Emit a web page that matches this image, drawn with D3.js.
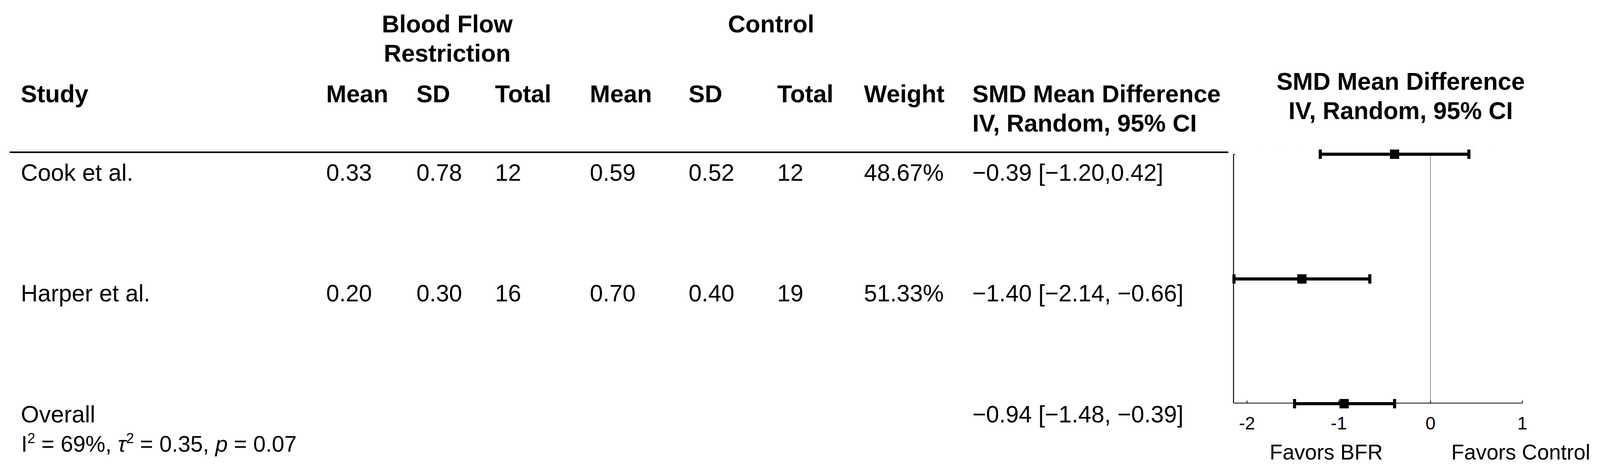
<!DOCTYPE html>
<html>
<head>
<meta charset="utf-8">
<script src="https://cdn.jsdelivr.net/npm/d3@7"></script>
<style>
  html, body { margin: 0; padding: 0; background: #fff; overflow: hidden; width: 100%; height: 100%; }
  svg { display: block; width: 100vw; height: 100vh; }
  text { font-family: "Liberation Sans", Arial, sans-serif; fill: #000; }
</style>
</head>
<body>
<svg id="chart" viewBox="0 0 4150 1209" preserveAspectRatio="none"></svg>
<script>
// ---------- DATA ----------
const studies   = ["Cook et al.", "Harper et al."];
const bfrMean   = [0.33, 0.20];
const bfrSD     = [0.78, 0.30];
const bfrTotal  = [12, 16];
const ctlMean   = [0.59, 0.70];
const ctlSD     = [0.52, 0.40];
const ctlTotal  = [12, 19];
const weights   = [48.67, 51.33];
const smd       = [-0.39, -1.40];
const ciLow     = [-1.20, -2.14];
const ciHigh    = [0.42, -0.66];
const ciLabels  = ["\u22120.39 [\u22121.20,0.42]", "\u22121.40 [\u22122.14, \u22120.66]"];
const overallLabel = "Overall";
const overallSmd  = [-0.94];
const overallLow  = [-1.48];
const overallHigh = [-0.39];
const overallCiLabel = "\u22120.94 [\u22121.48, \u22120.39]";
const statI2 = "69%", statTau2 = "0.35", statP = "0.07";
const tickValues = [-2, -1, 0, 1];
const tickLabels = ["-2", "-1", "0", "1"];
const favorLabels = ["Favors BFR", "Favors Control"];

// ---------- LAYOUT ----------
const svg = d3.select("#chart");
const W = 4150, H = 1209;
svg.append("rect").attr("width", W).attr("height", H).attr("fill", "#fff");

const headFont = 63, bodyFont = 61;
const rowNames = studies.concat([overallLabel]);
const yMark = d3.scalePoint().domain(rowNames).range([395, 1034]);
const yText = d3.scalePoint().domain(rowNames).range([463, 1082]);
const x = d3.scaleLinear().domain([-2.147, 1]).range([3199, 3948]);

const fmt2 = d3.format(".2f");
const columns = [
  { head: "Mean",   x: 846,  vals: bfrMean.map(fmt2) },
  { head: "SD",     x: 1080, vals: bfrSD.map(fmt2) },
  { head: "Total",  x: 1284, vals: bfrTotal.map(String) },
  { head: "Mean",   x: 1530, vals: ctlMean.map(fmt2) },
  { head: "SD",     x: 1786, vals: ctlSD.map(fmt2) },
  { head: "Total",  x: 2016, vals: ctlTotal.map(String) },
  { head: "Weight", x: 2241, vals: weights.map(w => fmt2(w) + "%") },
  { head: "SMD Mean Difference", x: 2522, vals: ciLabels }
];

// group headers
const gh = svg.append("g").attr("font-weight", "bold").attr("font-size", headFont);
gh.append("text").attr("x", 1160).attr("y", 83).attr("text-anchor", "middle").text("Blood Flow");
gh.append("text").attr("x", 1160).attr("y", 158).attr("text-anchor", "middle").text("Restriction");
gh.append("text").attr("x", 2000).attr("y", 83).attr("text-anchor", "middle").text("Control");

// column headers
gh.append("text").attr("x", 54).attr("y", 262).text("Study");
columns.forEach(c => {
  gh.append("text").attr("x", c.x).attr("y", 262).text(c.head);
});
gh.append("text").attr("x", 2522).attr("y", 337).text("IV, Random, 95% CI");

// right header
gh.append("text").attr("x", 3633).attr("y", 230).attr("text-anchor", "middle").text("SMD Mean Difference");
gh.append("text").attr("x", 3633).attr("y", 305).attr("text-anchor", "middle").text("IV, Random, 95% CI");

// header rule
svg.append("line").attr("x1", 25).attr("x2", 3186).attr("y1", 390).attr("y2", 390)
  .attr("stroke", "#000").attr("stroke-width", 4);

// body rows
const gb = svg.append("g").attr("font-size", bodyFont);
studies.forEach((s, i) => {
  const y = yText(s);
  gb.append("text").attr("x", 54).attr("y", y).text(s);
  columns.forEach(c => gb.append("text").attr("x", c.x).attr("y", y).text(c.vals[i]));
});
gb.append("text").attr("x", 54).attr("y", yText(overallLabel)).text(overallLabel);
gb.append("text").attr("x", 2522).attr("y", yText(overallLabel)).text(overallCiLabel);

// stats line
const st = svg.append("text").attr("x", 55).attr("y", 1157).attr("font-size", 58);
st.append("tspan").text("I");
st.append("tspan").attr("font-size", 36).attr("dy", -22).text("2");
st.append("tspan").attr("dy", 22).text(" = " + statI2 + ", ");
st.append("tspan").attr("font-style", "italic").text("\u03C4");
st.append("tspan").attr("font-size", 36).attr("dy", -22).text("2");
st.append("tspan").attr("dy", 22).text(" = " + statTau2 + ", ");
st.append("tspan").attr("font-style", "italic").text("p");
st.append("tspan").text(" = " + statP);

// ---------- FOREST PLOT ----------
const yTop = 395, yAxis = 1032;
const gp = svg.append("g");

// faint top guide
gp.append("line").attr("x1", 3265).attr("x2", 3885).attr("y1", 378).attr("y2", 378)
  .attr("stroke", "#f3f3f3").attr("stroke-width", 2).attr("stroke-dasharray", "10,40");

// zero line
gp.append("line").attr("x1", x(0)).attr("x2", x(0)).attr("y1", yTop).attr("y2", yAxis)
  .attr("stroke", "#777").attr("stroke-width", 1.6);

// left axis
const yAxisScale = d3.scaleLinear().domain([0, 1]).range([yAxis, yTop]);
const leftAxis = gp.append("g").attr("transform", `translate(${x.range()[0]},0)`)
  .call(d3.axisLeft(yAxisScale).tickValues([1]).tickSize(-5).tickSizeOuter(0).tickFormat(""));
leftAxis.select(".domain").attr("stroke", "#000").attr("stroke-width", 2.5);
leftAxis.selectAll(".tick line").attr("stroke", "#000").attr("stroke-width", 2);

// bottom axis
const bottomAxis = gp.append("g").attr("transform", `translate(0,${yAxis})`)
  .call(d3.axisBottom(x).tickValues(tickValues).tickSize(-6).tickSizeOuter(0)
        .tickFormat((d, i) => tickLabels[i]));
bottomAxis.select(".domain").attr("stroke", "#000").attr("stroke-width", 2);
bottomAxis.selectAll(".tick line").attr("stroke", "#000").attr("stroke-width", 2);
bottomAxis.selectAll(".tick text")
  .attr("y", 68).attr("dy", 0)
  .attr("font-size", 47).attr("font-family", "Liberation Sans, Arial, sans-serif").attr("fill", "#000");

// favors labels
gp.append("text").attr("x", x(-1.135)).attr("y", 1177).attr("text-anchor", "middle")
  .attr("font-size", 55).text(favorLabels[0]);
gp.append("text").attr("x", x(0.985)).attr("y", 1177).attr("text-anchor", "middle")
  .attr("font-size", 55).text(favorLabels[1]);

// CI marks
const marks = studies.map((s, i) => ({ name: s, est: smd[i], lo: ciLow[i], hi: ciHigh[i] }))
  .concat([{ name: overallLabel, est: overallSmd[0], lo: overallLow[0], hi: overallHigh[0] }]);

const mg = gp.selectAll("g.ci").data(marks).enter().append("g").attr("class", "ci")
  .attr("transform", d => `translate(0,${yMark(d.name)})`);
mg.append("line").attr("x1", d => x(d.lo)).attr("x2", d => x(d.hi)).attr("y1", 0).attr("y2", 0)
  .attr("stroke", "#000").attr("stroke-width", 8);
mg.append("line").attr("x1", d => x(d.lo)).attr("x2", d => x(d.lo)).attr("y1", -12).attr("y2", 12)
  .attr("stroke", "#000").attr("stroke-width", 8);
mg.append("line").attr("x1", d => x(d.hi)).attr("x2", d => x(d.hi)).attr("y1", -12).attr("y2", 12)
  .attr("stroke", "#000").attr("stroke-width", 8);
mg.append("rect").attr("x", d => x(d.est) - 12).attr("y", -12).attr("width", 24).attr("height", 24)
  .attr("fill", "#000");
</script>
</body>
</html>
